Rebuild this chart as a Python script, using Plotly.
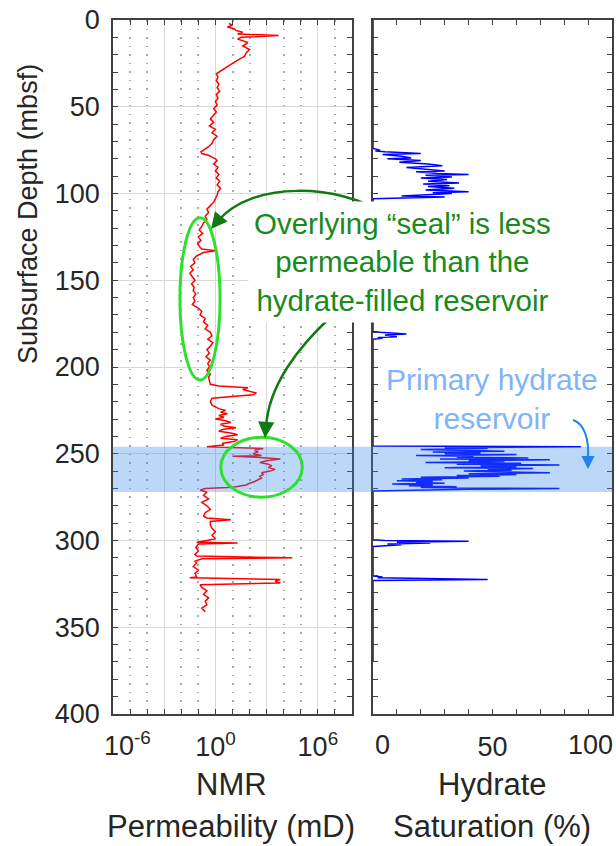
import plotly.graph_objects as go
from plotly.subplots import make_subplots

# ---------------- data ----------------
# NMR permeability log (depth in mbsf, log10 of permeability in mD)
nmr_depth = [2, 3, 4, 5, 6, 7, 8, 9, 10, 11, 13, 15, 17, 19, 21, 22, 25, 28, 30, 31,
             33, 35, 37, 39, 41, 43, 45, 47, 49, 51, 53, 55,
             57, 59, 61, 63, 65, 67, 69, 71, 73,
             75, 76, 77, 78, 79, 80, 81,
             83, 85, 87, 89, 91, 93, 95, 97, 99, 101, 103, 105,
             107, 109, 111, 113, 115, 117,
             119, 121, 123, 125, 127, 129, 131, 132, 133, 134,
             136, 138, 140, 142, 144, 146, 148, 150, 152, 154, 156, 158, 160, 162, 164,
             166, 168, 170, 172, 174, 176, 178, 180, 182, 184, 186, 188,
             190, 192, 194, 196, 198, 200, 202, 204, 206, 208, 210,
             211, 212, 213, 214, 215, 216, 217, 218,
             220, 222, 224, 225, 226, 227, 228, 229, 230, 231, 232, 233, 234, 235, 236,
             237, 238, 239, 240, 241, 242, 243, 244,
             245, 246, 247, 248, 249, 250, 251, 251.5, 252, 253, 254, 255, 256, 257, 258,
             259, 260, 261, 262, 263, 264, 265, 266, 267, 268, 269, 269.5, 270, 271,
             272, 274, 276, 278, 280, 282, 284, 286, 287, 288, 289,
             291, 293, 295, 297, 299, 300, 301, 301.5, 302, 304, 306, 308, 309, 310, 310.5,
             312, 313, 315, 317, 319, 321, 321.5, 322.5, 323.5, 324.5, 325.5,
             327, 329, 331, 333, 335, 337, 339, 341]
nmr_log10_perm = [0.8, 1.0, 0.7, 1.1, 1.2, 1.6, 1.3, 3.7, 1.5, 1.3, 1.9, 1.6, 2.0, 1.8, 1.7, 1.5, 1.0, 0.5, 0.2, 0.05,
                  0.15, 0.05, 0.2, 0.1, 0.25, 0.05, 0.15, 0.0, 0.1, -0.1, 0.05, -0.15,
                  -0.3, -0.1, -0.35, 0.0, -0.2, 0.1, -0.1, -0.2, -0.4,
                  -0.7, -0.85, -0.8, -0.4, -0.2, 0.0, 0.1,
                  -0.1, 0.15, 0.0, 0.2, 0.05, 0.25, 0.1, 0.3, 0.15, 0.1, 0.0, -0.1,
                  -0.3, -0.5, -0.4, -0.6, -0.5, -0.7,
                  -0.8, -0.95, -0.75, -1.0, -0.85, -1.05, -0.9, -0.8, 0.0, -0.7,
                  -1.1, -1.3, -1.2, -1.45, -1.3, -1.5, -1.35, -1.2, -1.4, -1.25, -1.3, -1.15, -1.3, -1.2, -1.35,
                  -1.0, -0.8, -0.9, -0.6, -0.7, -0.45, -0.6, -0.3, -0.2, -0.45, -0.15, -0.3,
                  -0.5, -0.35, -0.55, -0.3, -0.45, -0.35, -0.5, -0.3, -0.4, -0.35, -0.3,
                  0.2, 1.9, 1.6, 2.1, 2.4, 2.2, 1.0, -0.2,
                  -0.3, -0.2, 0.2, 0.6, 0.3, 0.7, 0.2, 0.5, 0.0, 0.6, 0.9, 0.3, 0.5, 1.2, 0.4,
                  0.2, 0.9, 1.3, 0.6, 0.3, 1.3, 1.1, 0.4,
                  0.5, -0.5, 2.8, 2.3, 2.5, 2.2, 2.7, 1.0, 2.4, 3.8, 3.0, 2.6, 3.1, 3.3, 3.1,
                  3.5, 3.2, 2.7, 2.8, 2.6, 2.7, 2.5, 2.3, 2.0, 1.8, 1.2, 0.7, -0.6, -0.9,
                  -0.5, -0.7, -0.4, -0.8, -0.5, -0.3, -0.6, -0.7, -0.5, 0.9, -0.3,
                  -0.3, -0.2, 0.0, -0.2, 0.0, -0.5, -1.1, 1.3, -1.0, -1.15, -1.0, -1.2, -1.1, 4.5, -0.8,
                  -1.2, -1.1, -1.3, -1.0, -1.2, -1.1, -1.5, 3.8, 3.5, 3.8, -0.9,
                  -0.8, -0.5, -0.7, -0.4, -0.6, -0.5, -0.8, -0.6]
nmr_perm_md = [10 ** v for v in nmr_log10_perm]

# Hydrate saturation log (depth in mbsf, saturation in %)
hyd_depth = [0, 74, 75, 75.5, 76, 77, 77.5, 78.5, 79.5, 80, 81, 82, 83, 84, 85, 86, 87, 87.5, 88.5, 89,
             89.5, 90.5, 91, 92, 93, 94, 94.5, 95.5, 96, 97, 98, 99, 99.5, 100, 101, 101.5, 102, 102.5, 103,
             179.5, 180, 181, 181.5, 182.5, 183, 183.5, 184,
             245.5, 246, 246.5, 247, 247.5, 248, 248.5, 249, 249.5, 250, 250.5, 251, 251.5, 252, 252.5,
             253, 253.5, 254, 254.5, 255, 255.5, 256, 256.5, 257, 257.5, 258, 258.5, 259, 259.5, 260,
             260.5, 261, 261.5, 262, 262.5, 263, 263.5, 264, 264.5, 265, 265.5, 266, 266.5, 267, 267.5,
             268, 268.5, 269, 269.5, 270, 270.5, 271, 271.5,
             299.5, 300, 300.5, 301, 301.5, 302, 302.5, 303, 303.5,
             320.5, 321, 321.5, 322.5, 323, 370]
hyd_sat = [0, 0, 3, 1, 5, 20, 4, 12, 16, 6, 20, 11, 23, 29, 14, 22, 30, 18, 27, 40,
           22, 33, 20, 31, 23, 36, 21, 32, 23, 34, 22, 40, 25, 33, 20, 12, 30, 12, 0,
           0, 3, 14, 5, 10, 2, 4, 0,
           0, 87, 30, 48, 20, 36, 55, 25, 45, 30, 60, 18, 42, 35, 65,
           28, 74, 40, 55, 22, 62, 35, 78, 45, 60, 30, 67, 48, 58, 38,
           55, 74, 40, 60, 35, 53, 20, 40, 12, 29, 10, 25, 18, 30, 8,
           25, 15, 35, 20, 78, 40, 12, 0,
           0, 5, 40, 10, 24, 6, 12, 3, 0,
           0, 4, 2, 48, 0, 0]

depth_ticks = [0, 50, 100, 150, 200, 250, 300, 350, 400]
perm_major = [1e-3, 1, 1e3, 1e6]
perm_major_text = ["", "10<sup>0</sup>", "", "10<sup>6</sup>"]
perm_minor = [1e-5, 1e-4, 1e-2, 1e-1, 1e1, 1e2, 1e4, 1e5, 1e7]
reservoir_top, reservoir_base = 246, 272

# ---------------- figure ----------------
FONT = "Liberation Sans, Arial, sans-serif"
TXT = "#262626"
AX = "#404040"
W, H = 616, 846
ML, MT = 113, 20             # plot area: x 113..612, y 20..714
PW, PH = 499, 694
MR, MB = W - ML - PW, H - MT - PH


def X(px):
    return (px - ML) / PW


def Y(py):
    return 1 - (py - MT) / PH


fig = make_subplots(rows=1, cols=2)
fig.add_trace(go.Scatter(x=nmr_perm_md, y=nmr_depth, mode="lines",
                         line=dict(color="#ff0000", width=1.5), showlegend=False), 1, 1)
fig.add_trace(go.Scatter(x=hyd_sat, y=hyd_depth, mode="lines",
                         line=dict(color="#0000ff", width=1.5), showlegend=False), 1, 2)

common = dict(showline=True, linecolor=AX, linewidth=1.5, ticks="inside", ticklen=5,
              tickwidth=1.2, tickcolor=AX, mirror="ticks", zeroline=False, automargin=False,
              tickfont=dict(family=FONT, size=27, color=TXT))

fig.update_layout(
    width=W, height=H, margin=dict(l=ML, r=MR, t=MT, b=MB, autoexpand=False),
    paper_bgcolor="white", plot_bgcolor="white",
    font=dict(family=FONT, color=TXT),
    xaxis=dict(domain=[0, 239 / PW], type="log", range=[-6, 8], tickmode="array",
               tickvals=perm_major, ticktext=perm_major_text, showgrid=True,
               gridcolor="#d9d9d9", gridwidth=1, ticklabelstandoff=8,
               minor=dict(tickmode="array", tickvals=perm_minor, ticks="inside", ticklen=5,
                          tickcolor=AX, tickwidth=1.2, showgrid=True, gridcolor="#a8a8a8",
                          griddash="1.5px,7px", gridwidth=1.5),
               **common),
    xaxis2=dict(domain=[260 / PW, 1], range=[0, 100], tickmode="array", tickvals=[0, 50, 100],
                ticktext=["", "50", ""], showgrid=False, ticklabelstandoff=8,
                minor=dict(dtick=10, ticks="inside", ticklen=5, tickcolor=AX, tickwidth=1.2),
                **common),
    yaxis=dict(range=[400, 0], tickmode="array", tickvals=depth_ticks,
               ticktext=[str(v) for v in depth_ticks], showgrid=True, gridcolor="#d9d9d9",
               ticklabelstandoff=6, ticklabeloverflow="allow",
               minor=dict(dtick=10, ticks="inside", ticklen=5, tickcolor=AX, tickwidth=1.2),
               **common),
    yaxis2=dict(range=[400, 0], matches="y", tickmode="array", tickvals=depth_ticks,
                showticklabels=False, showgrid=False,
                minor=dict(dtick=10, ticks="inside", ticklen=5, tickcolor=AX, tickwidth=1.2),
                **common),
)

shapes = []
# primary reservoir band across both panels
shapes.append(dict(type="rect", xref="paper", yref="y", x0=0, x1=1, y0=reservoir_top,
                   y1=reservoir_base, fillcolor="rgba(51,136,238,0.33)", line=dict(width=0),
                   layer="above"))
# ellipses
shapes.append(dict(type="circle", xref="x domain", yref="y", x0=0.28, x1=0.448, y0=114, y1=207.5,
                   line=dict(color="#2ee02e", width=3), layer="above"))
shapes.append(dict(type="circle", xref="x domain", yref="y", x0=0.451, x1=0.792, y0=240.5, y1=275,
                   line=dict(color="#2ee02e", width=3), layer="above"))
# curved arrows
GREEN_ARROW = "#137a13"
shapes.append(dict(type="path", xref="paper", yref="paper", layer="above",
                   path=f"M {X(385)},{Y(214)} C {X(340)},{Y(184)} {X(252)},{Y(180)} {X(218)},{Y(221)}",
                   line=dict(color=GREEN_ARROW, width=2.5)))
shapes.append(dict(type="path", xref="paper", yref="paper", layer="above",
                   path=f"M {X(332)},{Y(316)} C {X(300)},{Y(345)} {X(268)},{Y(385)} {X(266)},{Y(428)}",
                   line=dict(color=GREEN_ARROW, width=2.5)))
shapes.append(dict(type="path", xref="paper", yref="paper", layer="above",
                   path=f"M {X(573)},{Y(420)} C {X(585)},{Y(424)} {X(589)},{Y(440)} {X(588)},{Y(458)}",
                   line=dict(color="#1e82f0", width=2)))
fig.update_layout(shapes=shapes)

ann = []
# arrowheads
ann.append(dict(xref="paper", yref="paper", x=X(211), y=Y(229), ax=9, ay=-11, text="",
                showarrow=True, arrowhead=2, arrowsize=1.3, arrowwidth=2.5,
                arrowcolor=GREEN_ARROW, standoff=0))
ann.append(dict(xref="paper", yref="paper", x=X(265), y=Y(438), ax=1, ay=-13, text="",
                showarrow=True, arrowhead=2, arrowsize=1.3, arrowwidth=2.5,
                arrowcolor=GREEN_ARROW, standoff=0))
ann.append(dict(xref="paper", yref="paper", x=X(588), y=Y(469), ax=0, ay=-13, text="",
                showarrow=True, arrowhead=2, arrowsize=1.3, arrowwidth=2,
                arrowcolor="#1e82f0", standoff=0))
# text annotations
ann.append(dict(xref="paper", yref="paper", x=X(402), y=Y(262), xanchor="center", yanchor="middle",
                text="Overlying \u201cseal\u201d is less<br>permeable than the<br>hydrate-filled reservoir",
                showarrow=False, align="center", bgcolor="white", borderpad=5,
                font=dict(family=FONT, size=29.5, color="#1a8a1a")))
ann.append(dict(xref="paper", yref="paper", x=X(492), y=Y(399), xanchor="center", yanchor="middle",
                text="Primary hydrate<br>reservoir", showarrow=False, align="center",
                font=dict(family=FONT, size=30, color="#80b4f8")))
# edge tick labels
ann.append(dict(xref="paper", yref="paper", x=X(127), y=Y(744), xanchor="center", yanchor="middle",
                text="10<sup>-6</sup>", showarrow=False, font=dict(family=FONT, size=27, color=TXT)))
ann.append(dict(xref="paper", yref="paper", x=X(382), y=Y(745), xanchor="center", yanchor="middle",
                text="0", showarrow=False, font=dict(family=FONT, size=27, color=TXT)))
ann.append(dict(xref="paper", yref="paper", x=X(590), y=Y(745), xanchor="center", yanchor="middle",
                text="100", showarrow=False, font=dict(family=FONT, size=27, color=TXT)))
# axis titles
for cx, lines in ((231, ("NMR", "Permeability (mD)")), (492, ("Hydrate", "Saturation (%)"))):
    ann.append(dict(xref="paper", yref="paper", x=X(cx), y=Y(784), xanchor="center", yanchor="middle",
                    text=lines[0], showarrow=False, font=dict(family=FONT, size=31, color=TXT)))
    ann.append(dict(xref="paper", yref="paper", x=X(cx), y=Y(826), xanchor="center", yanchor="middle",
                    text=lines[1], showarrow=False, font=dict(family=FONT, size=31, color=TXT)))
ann.append(dict(xref="paper", yref="paper", x=X(28), y=Y(214), xanchor="center", yanchor="middle",
                text="Subsurface Depth (mbsf)", textangle=-90, showarrow=False,
                font=dict(family=FONT, size=27, color=TXT)))
fig.update_layout(annotations=ann)

# remove the browser's default page margin so the figure fills the window exactly
fig.write_html("out.html", config={"displayModeBar": False},
               post_script="document.body.style.margin='0';document.body.style.overflow='hidden';")
